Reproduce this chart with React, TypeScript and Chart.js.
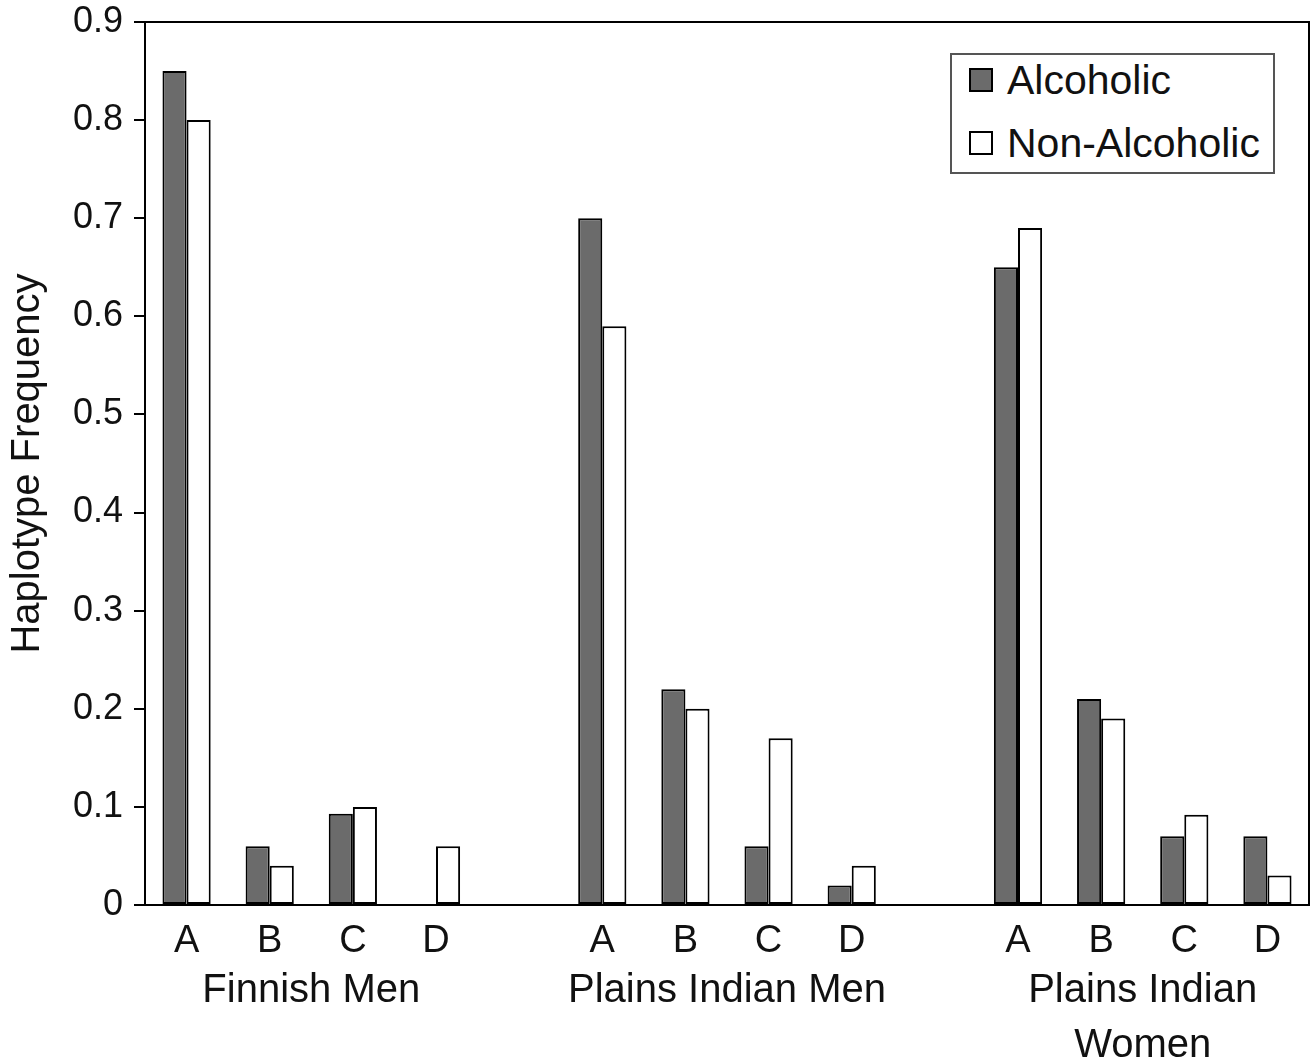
import React, { useEffect, useRef } from 'react';
import { Chart, registerables } from 'chart.js';

Chart.register(...registerables);

const categories = ['A', 'B', 'C', 'D', '', 'A', 'B', 'C', 'D', '', 'A', 'B', 'C', 'D'];
const alcoholic = [0.85, 0.06, 0.093, 0, null, 0.70, 0.22, 0.06, 0.02, null, 0.65, 0.21, 0.07, 0.07];
const nonAlcoholic = [0.80, 0.04, 0.10, 0.06, null, 0.59, 0.20, 0.17, 0.04, null, 0.69, 0.19, 0.092, 0.03];
const groupLabels = [['Finnish Men'], ['Plains Indian Men'], ['Plains Indian', 'Women']];
const groupSpans = [[0, 3], [5, 8], [10, 13]];
const seriesNames = ['Alcoholic', 'Non-Alcoholic'];
const yMin = 0;
const yMax = 0.9;
const yStep = 0.1;

const FONT = '"Liberation Sans", Arial, Helvetica, sans-serif';
const TEXT = '#111';
const DARK = '#6b6b6b';
const LIGHT = '#ffffff';

const frameAndGroups = {
  id: 'frameAndGroups',
  afterDraw(chart: any) {
    const { ctx, chartArea } = chart;
    const x = chart.scales.x;
    ctx.save();
    ctx.strokeStyle = '#000';
    ctx.lineWidth = 2;
    ctx.strokeRect(chartArea.left, chartArea.top, chartArea.right - chartArea.left, chartArea.bottom - chartArea.top);
    ctx.fillStyle = TEXT;
    ctx.font = `40px ${FONT}`;
    ctx.textAlign = 'center';
    ctx.textBaseline = 'alphabetic';
    groupLabels.forEach((lines, i) => {
      const [s, e] = groupSpans[i];
      const cx = (x.getPixelForValue(s) + x.getPixelForValue(e)) / 2;
      lines.forEach((line, j) => {
        ctx.fillText(line, cx, chartArea.bottom + 97 + j * 55);
      });
    });
    ctx.restore();
  },
};

export default function App() {
  const ref = useRef<HTMLCanvasElement | null>(null);

  useEffect(() => {
    if (!ref.current) return;
    const chart = new Chart(ref.current, {
      type: 'bar',
      data: {
        labels: categories,
        datasets: [
          {
            label: seriesNames[0],
            data: alcoholic,
            backgroundColor: DARK,
            borderColor: '#000',
            borderWidth: 2,
            borderSkipped: false,
            categoryPercentage: 0.58,
            barPercentage: 1,
          },
          {
            label: seriesNames[1],
            data: nonAlcoholic,
            backgroundColor: LIGHT,
            borderColor: '#000',
            borderWidth: 2,
            borderSkipped: false,
            categoryPercentage: 0.58,
            barPercentage: 1,
          },
        ],
      },
      options: {
        animation: false,
        responsive: false,
        maintainAspectRatio: false,
        layout: { padding: { top: 22, right: 6, left: 0, bottom: 0 } },
        plugins: {
          legend: { display: false },
          tooltip: { enabled: false },
        },
        scales: {
          x: {
            type: 'category',
            grid: { display: false, drawTicks: false },
            border: { display: true, color: '#000', width: 2 },
            ticks: {
              color: TEXT,
              font: { family: FONT, size: 38 },
              padding: 14,
              maxRotation: 0,
              autoSkip: false,
            },
            afterFit(scale: any) {
              scale.height = 154;
              scale.paddingLeft = 0;
              scale.paddingRight = 0;
            },
          },
          y: {
            min: yMin,
            max: yMax,
            grid: {
              display: true,
              drawOnChartArea: false,
              drawTicks: true,
              tickLength: 11,
              color: '#000',
              lineWidth: 2,
            },
            border: { display: true, color: '#000', width: 2 },
            ticks: {
              stepSize: yStep,
              color: TEXT,
              font: { family: FONT, size: 36 },
              padding: 11,
              callback: (v: any) => {
                const n = Math.round(Number(v) * 10) / 10;
                return n === 0 ? '0' : n.toFixed(1);
              },
            },
            title: {
              display: true,
              text: 'Haplotype Frequency',
              color: TEXT,
              font: { family: FONT, size: 40 },
              padding: { top: 4, bottom: 0 },
            },
            afterFit(scale: any) {
              scale.width = 145;
              scale.paddingTop = 0;
              scale.paddingBottom = 0;
            },
          },
        },
      },
      plugins: [frameAndGroups],
    });
    return () => chart.destroy();
  }, []);

  const swatch = (bg: string) => ({
    position: 'absolute' as const,
    left: 17,
    top: 8,
    width: 24,
    height: 24,
    boxSizing: 'border-box' as const,
    border: '2px solid #000',
    background: bg,
  });

  const row = (top: number) => ({
    position: 'absolute' as const,
    left: 0,
    top,
    width: '100%',
    height: 40,
  });

  const label = {
    position: 'absolute' as const,
    left: 55,
    top: 0,
    height: 40,
    lineHeight: '40px',
    fontSize: 41,
    fontFamily: FONT,
    color: TEXT,
    whiteSpace: 'nowrap' as const,
  };

  return (
    <div style={{ position: 'absolute', left: 0, top: 0, width: 1315, height: 1059, background: '#fff', overflow: 'hidden' }}>
      <canvas ref={ref} width={1315} height={1059} style={{ display: 'block', width: 1315, height: 1059 }} />
      <div
        style={{
          position: 'absolute',
          left: 950,
          top: 53,
          width: 325,
          height: 121,
          boxSizing: 'border-box',
          border: '2px solid #555',
          background: '#fff',
        }}
      >
        <div style={row(5)}>
          <div style={swatch(DARK)} />
          <div style={label}>{seriesNames[0]}</div>
        </div>
        <div style={row(68)}>
          <div style={swatch(LIGHT)} />
          <div style={label}>{seriesNames[1]}</div>
        </div>
      </div>
    </div>
  );
}
